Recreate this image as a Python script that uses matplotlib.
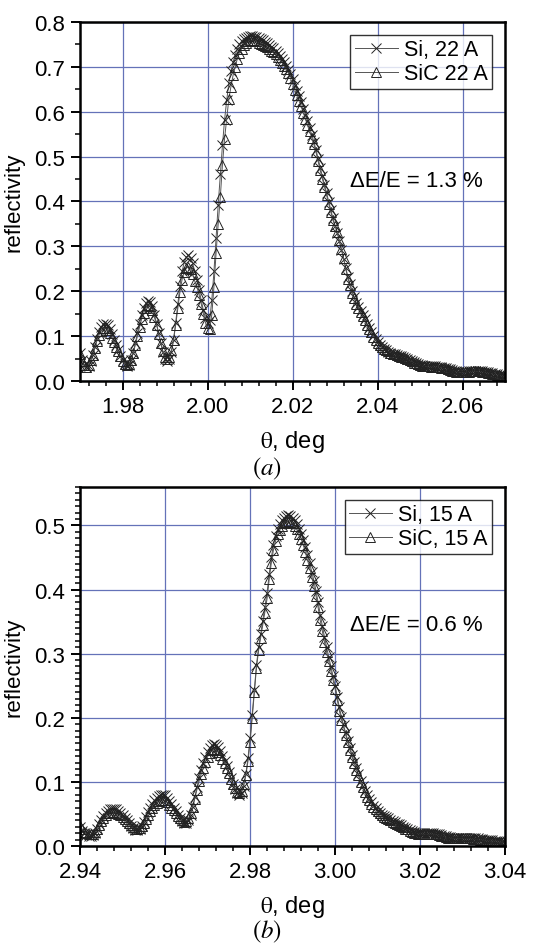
#!/usr/bin/env python
"""Reflectivity curves of Si and SiC reflectors around the Bragg peak.

Two stacked panels: (a) 22 A layers near 2.01 deg, (b) 15 A layers near
2.99 deg. Values were read off the published figure on a 0.0005 deg grid.
"""

import numpy as np
import matplotlib
matplotlib.use("Agg")
import matplotlib.pyplot as plt
from matplotlib.ticker import MultipleLocator, FormatStrFormatter

plt.rcParams["font.family"] = ["Liberation Sans", "DejaVu Sans"]
plt.rcParams["mathtext.fontset"] = "stix"

# ---- panel (a): 22 A, scan 1.970 .. 2.070 deg, step 0.0005 ----
theta_a = np.round(1.970 + 0.0005 * np.arange(201), 4)
si_22 = [
    0.062, 0.047, 0.036, 0.031, 0.034, 0.044, 0.058, 0.076, 0.094, 0.109,
    0.120, 0.127, 0.128, 0.124, 0.115, 0.104, 0.092, 0.080, 0.068, 0.056,
    0.046, 0.038, 0.034, 0.036, 0.046, 0.063, 0.084, 0.106, 0.128, 0.147,
    0.163, 0.174, 0.179, 0.177, 0.166, 0.148, 0.128, 0.106, 0.084, 0.064,
    0.050, 0.044, 0.048, 0.064, 0.092, 0.130, 0.172, 0.212, 0.244, 0.264,
    0.276, 0.280, 0.275, 0.262, 0.244, 0.225, 0.203, 0.180, 0.158, 0.140,
    0.130, 0.136, 0.180, 0.244, 0.318, 0.393, 0.460, 0.525, 0.582, 0.625,
    0.664, 0.690, 0.711, 0.727, 0.740, 0.750, 0.757, 0.762, 0.765, 0.767,
    0.768, 0.768, 0.767, 0.766, 0.764, 0.762, 0.759, 0.756, 0.753, 0.749,
    0.745, 0.741, 0.736, 0.730, 0.724, 0.717, 0.710, 0.702, 0.693, 0.683,
    0.672, 0.660, 0.647, 0.634, 0.621, 0.607, 0.593, 0.579, 0.564, 0.549,
    0.533, 0.515, 0.495, 0.475, 0.456, 0.437, 0.418, 0.399, 0.380, 0.362,
    0.346, 0.330, 0.311, 0.292, 0.272, 0.252, 0.232, 0.216, 0.200, 0.186,
    0.174, 0.164, 0.155, 0.146, 0.137, 0.127, 0.118, 0.109, 0.101, 0.093,
    0.086, 0.080, 0.075, 0.071, 0.068, 0.065, 0.063, 0.061, 0.059, 0.058,
    0.056, 0.055, 0.053, 0.051, 0.049, 0.047, 0.044, 0.042, 0.040, 0.038,
    0.036, 0.035, 0.034, 0.034, 0.033, 0.033, 0.033, 0.033, 0.032, 0.032,
    0.031, 0.030, 0.029, 0.027, 0.026, 0.024, 0.023, 0.022, 0.021, 0.021,
    0.020, 0.020, 0.021, 0.022, 0.023, 0.023, 0.023, 0.023, 0.023, 0.022,
    0.021, 0.020, 0.019, 0.018, 0.017, 0.016, 0.015, 0.014, 0.013, 0.013,
    0.012,
]
sic_22 = [
    0.060, 0.045, 0.035, 0.032, 0.036, 0.046, 0.058, 0.074, 0.090, 0.103,
    0.112, 0.117, 0.118, 0.114, 0.106, 0.096, 0.086, 0.076, 0.066, 0.055,
    0.045, 0.038, 0.035, 0.037, 0.046, 0.062, 0.080, 0.100, 0.120, 0.138,
    0.152, 0.163, 0.169, 0.168, 0.158, 0.142, 0.125, 0.105, 0.085, 0.066,
    0.054, 0.050, 0.054, 0.068, 0.092, 0.125, 0.162, 0.198, 0.226, 0.243,
    0.251, 0.254, 0.250, 0.238, 0.222, 0.210, 0.192, 0.172, 0.150, 0.130,
    0.118, 0.116, 0.148, 0.210, 0.285, 0.350, 0.410, 0.482, 0.540, 0.584,
    0.628, 0.656, 0.681, 0.700, 0.718, 0.731, 0.740, 0.748, 0.753, 0.757,
    0.759, 0.760, 0.759, 0.757, 0.754, 0.751, 0.748, 0.746, 0.743, 0.740,
    0.736, 0.733, 0.728, 0.722, 0.715, 0.709, 0.702, 0.695, 0.686, 0.674,
    0.662, 0.649, 0.636, 0.624, 0.612, 0.598, 0.584, 0.570, 0.556, 0.542,
    0.527, 0.510, 0.489, 0.469, 0.451, 0.432, 0.414, 0.395, 0.376, 0.358,
    0.345, 0.332, 0.313, 0.294, 0.273, 0.250, 0.228, 0.214, 0.196, 0.184,
    0.172, 0.163, 0.154, 0.145, 0.135, 0.125, 0.116, 0.108, 0.099, 0.092,
    0.085, 0.080, 0.075, 0.071, 0.068, 0.066, 0.063, 0.061, 0.059, 0.057,
    0.056, 0.054, 0.053, 0.051, 0.049, 0.046, 0.044, 0.041, 0.039, 0.037,
    0.035, 0.034, 0.034, 0.033, 0.033, 0.032, 0.032, 0.032, 0.032, 0.031,
    0.030, 0.029, 0.028, 0.026, 0.025, 0.023, 0.022, 0.021, 0.020, 0.020,
    0.019, 0.019, 0.020, 0.021, 0.022, 0.022, 0.022, 0.022, 0.022, 0.021,
    0.020, 0.019, 0.018, 0.017, 0.016, 0.015, 0.014, 0.013, 0.012, 0.012,
    0.011,
]

# ---- panel (b): 15 A, scan 2.940 .. 3.040 deg, step 0.0005 ----
theta_b = np.round(2.940 + 0.0005 * np.arange(201), 4)
si_15 = [
    0.030, 0.024, 0.020, 0.017, 0.015, 0.015, 0.017, 0.021, 0.027, 0.034,
    0.041, 0.047, 0.052, 0.055, 0.057, 0.058, 0.058, 0.057, 0.055, 0.052,
    0.048, 0.044, 0.040, 0.036, 0.031, 0.028, 0.025, 0.025, 0.027, 0.031,
    0.037, 0.045, 0.053, 0.060, 0.066, 0.071, 0.075, 0.078, 0.080, 0.080,
    0.079, 0.075, 0.070, 0.065, 0.059, 0.054, 0.048, 0.043, 0.039, 0.036,
    0.036, 0.040, 0.049, 0.061, 0.076, 0.092, 0.106, 0.118, 0.129, 0.139,
    0.147, 0.153, 0.157, 0.159, 0.158, 0.154, 0.148, 0.141, 0.133, 0.125,
    0.116, 0.106, 0.097, 0.089, 0.082, 0.079, 0.083, 0.094, 0.112, 0.137,
    0.168, 0.205, 0.244, 0.282, 0.310, 0.331, 0.351, 0.372, 0.395, 0.424,
    0.450, 0.470, 0.484, 0.494, 0.502, 0.508, 0.512, 0.515, 0.516, 0.515,
    0.512, 0.508, 0.502, 0.495, 0.487, 0.477, 0.466, 0.454, 0.441, 0.428,
    0.414, 0.398, 0.380, 0.361, 0.343, 0.326, 0.310, 0.295, 0.280, 0.265,
    0.250, 0.233, 0.216, 0.201, 0.188, 0.176, 0.164, 0.153, 0.142, 0.131,
    0.121, 0.112, 0.102, 0.094, 0.086, 0.079, 0.073, 0.068, 0.063, 0.059,
    0.055, 0.052, 0.049, 0.047, 0.045, 0.043, 0.041, 0.039, 0.037, 0.035,
    0.034, 0.032, 0.030, 0.028, 0.027, 0.025, 0.023, 0.022, 0.021, 0.020,
    0.020, 0.020, 0.020, 0.020, 0.020, 0.020, 0.020, 0.019, 0.019, 0.018,
    0.017, 0.016, 0.015, 0.014, 0.014, 0.013, 0.013, 0.013, 0.013, 0.013,
    0.013, 0.013, 0.013, 0.013, 0.013, 0.012, 0.012, 0.012, 0.011, 0.011,
    0.010, 0.010, 0.009, 0.009, 0.009, 0.008, 0.008, 0.008, 0.007, 0.007,
    0.007,
]
sic_15 = [
    0.031, 0.026, 0.022, 0.020, 0.018, 0.018, 0.019, 0.022, 0.027, 0.033,
    0.039, 0.044, 0.048, 0.051, 0.052, 0.053, 0.053, 0.052, 0.050, 0.048,
    0.045, 0.042, 0.039, 0.036, 0.032, 0.029, 0.027, 0.027, 0.028, 0.031,
    0.036, 0.042, 0.049, 0.055, 0.060, 0.064, 0.067, 0.070, 0.072, 0.072,
    0.071, 0.068, 0.064, 0.060, 0.056, 0.052, 0.047, 0.043, 0.040, 0.038,
    0.039, 0.043, 0.051, 0.061, 0.074, 0.088, 0.101, 0.112, 0.122, 0.131,
    0.139, 0.145, 0.149, 0.151, 0.150, 0.147, 0.142, 0.136, 0.129, 0.122,
    0.114, 0.105, 0.097, 0.090, 0.084, 0.082, 0.086, 0.096, 0.110, 0.132,
    0.162, 0.200, 0.240, 0.278, 0.305, 0.325, 0.344, 0.364, 0.386, 0.416,
    0.442, 0.462, 0.476, 0.486, 0.493, 0.499, 0.503, 0.506, 0.507, 0.506,
    0.503, 0.499, 0.494, 0.487, 0.479, 0.470, 0.458, 0.446, 0.434, 0.420,
    0.405, 0.390, 0.372, 0.352, 0.335, 0.318, 0.302, 0.288, 0.273, 0.259,
    0.245, 0.228, 0.211, 0.197, 0.185, 0.173, 0.162, 0.150, 0.139, 0.129,
    0.119, 0.110, 0.100, 0.092, 0.084, 0.077, 0.071, 0.066, 0.061, 0.057,
    0.054, 0.051, 0.048, 0.046, 0.044, 0.042, 0.040, 0.038, 0.036, 0.034,
    0.033, 0.031, 0.029, 0.027, 0.026, 0.024, 0.022, 0.021, 0.020, 0.019,
    0.019, 0.019, 0.019, 0.019, 0.019, 0.019, 0.019, 0.018, 0.018, 0.017,
    0.016, 0.015, 0.014, 0.013, 0.013, 0.012, 0.012, 0.012, 0.012, 0.012,
    0.012, 0.012, 0.012, 0.012, 0.012, 0.011, 0.011, 0.011, 0.010, 0.010,
    0.009, 0.009, 0.008, 0.008, 0.008, 0.007, 0.007, 0.007, 0.006, 0.006,
    0.006,
]

labels_a = ["Si, 22 A", "SiC 22 A"]
labels_b = ["Si, 15 A", "SiC, 15 A"]
note_a = "\u0394E/E = 1.3 %"
note_b = "\u0394E/E = 0.6 %"

GRID = "#6472b8"
LINE = "#555555"


def draw_panel(ax, theta, si, sic, labels, note, note_y, xlim, ylim, yminor, xticks):
    ax.plot(theta, si, color=LINE, lw=0.7, marker="x", ms=7.5, mew=0.7,
            mec="#222222", label=labels[0])
    ax.plot(theta, sic, color=LINE, lw=0.7, marker="^", ms=7.5, mew=0.7,
            mfc="none", mec="#222222", label=labels[1])

    ax.set_xlim(*xlim)
    ax.set_ylim(*ylim)
    ax.set_xticks(xticks)
    ax.xaxis.set_minor_locator(MultipleLocator(0.004))
    ax.yaxis.set_major_locator(MultipleLocator(0.1))
    ax.yaxis.set_minor_locator(MultipleLocator(yminor))
    ax.xaxis.set_major_formatter(FormatStrFormatter("%.2f"))
    ax.yaxis.set_major_formatter(FormatStrFormatter("%.1f"))

    ax.grid(True, which="major", color=GRID, lw=0.9)
    ax.set_axisbelow(True)
    for side in ax.spines.values():
        side.set_linewidth(1.8)
    ax.tick_params(which="major", direction="out", length=6.5, width=1.4,
                   labelsize=16, top=False, right=False, pad=4)
    ax.tick_params(which="minor", direction="out", length=3.5, width=1.1,
                   top=False, right=False)

    ax.set_ylabel("reflectivity", fontsize=16, labelpad=7)
    ax.set_xlabel(r"$\mathrm{\theta}$, deg", fontsize=17, labelpad=8)

    leg = ax.legend(loc="upper right", fontsize=15.5, frameon=True, fancybox=False,
                    handlelength=2.0, handletextpad=0.3, borderpad=0.2,
                    labelspacing=0.15, borderaxespad=0.6)
    leg.get_frame().set_edgecolor("black")
    leg.get_frame().set_linewidth(1.0)

    ax.text(0.79, note_y, note, transform=ax.transAxes,
            fontsize=16, ha="center", va="center")


fig = plt.figure(figsize=(5.5, 9.45), dpi=100)
ax_a = fig.add_axes([0.1455, 0.5958, 0.773, 0.380])
ax_b = fig.add_axes([0.1455, 0.1037, 0.773, 0.380])

draw_panel(ax_a, theta_a, si_22, sic_22, labels_a, note_a, 0.557,
           (1.97, 2.07), (0.0, 0.8), 0.05,
           [1.98, 2.00, 2.02, 2.04, 2.06])
draw_panel(ax_b, theta_b, si_15, sic_15, labels_b, note_b, 0.618,
           (2.94, 3.04), (0.0, 0.56), 0.01,
           [2.94, 2.96, 2.98, 3.00, 3.02, 3.04])

fig.text(0.486, 1 - 469 / 945, r"$(\mathit{a})$", fontsize=18, ha="center", va="center")
fig.text(0.486, 1 - 932 / 945, r"$(\mathit{b})$", fontsize=18, ha="center", va="center")

fig.savefig("out.png", dpi=100)
